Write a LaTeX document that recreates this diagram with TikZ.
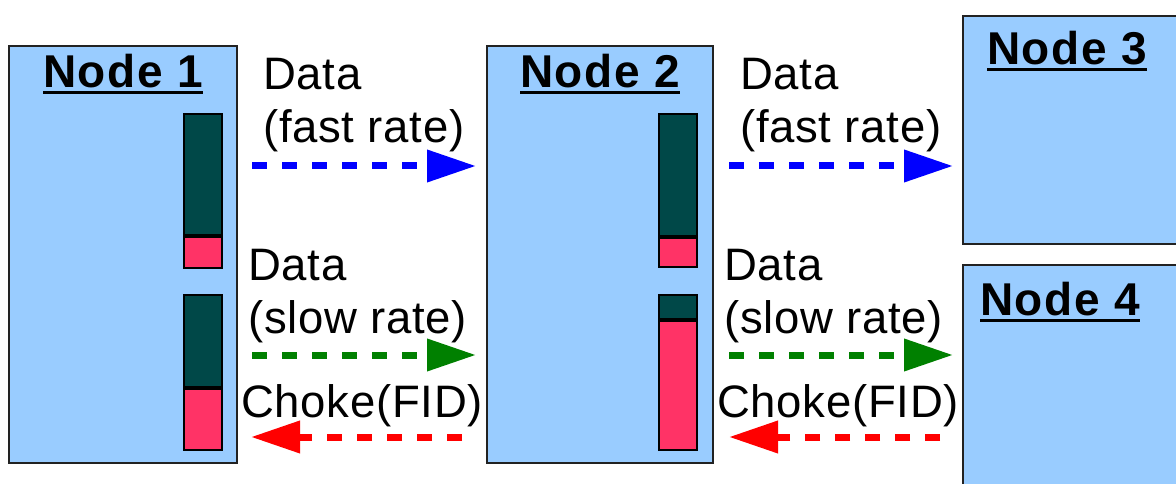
\documentclass[tikz,border=0pt]{standalone}
\usepackage{fontspec}
\setmainfont{Liberation Sans}
\usetikzlibrary{arrows.meta,calc}
\definecolor{boxblue}{HTML}{99CCFF}
\definecolor{bardark}{HTML}{004848}
\definecolor{barpink}{HTML}{FF3366}
\definecolor{edge}{HTML}{222222}
\definecolor{fastblue}{HTML}{0000FF}
\definecolor{slowgreen}{HTML}{008000}
\definecolor{chokered}{HTML}{FF0000}
\newcommand{\ntitle}[1]{\setbox0=\hbox{#1}\rlap{\vrule height -3.5pt depth 6.5pt width \wd0}\box0}
\begin{document}
\begin{tikzpicture}[x=1pt,y=-1pt,
  hostbox/.style={draw=edge,line width=2pt,fill=boxblue,anchor=north west,inner sep=0pt},
  dark/.style={draw=black,line width=2pt,fill=bardark,anchor=north west,inner sep=0pt,minimum width=38pt},
  pinkpart/.style={draw=black,line width=2pt,fill=barpink,anchor=north,inner sep=0pt,minimum width=38pt},
  titletext/.style={anchor=base west,inner sep=0pt,font=\fontsize{46}{53}\selectfont\bfseries\addfontfeature{LetterSpace=3.5}},
  lbl/.style={anchor=base west,inner sep=0pt,align=left,font=\fontsize{45.5}{53}\selectfont\addfontfeature{LetterSpace=1.6}},
  flow/.style={line width=7pt,dash pattern=on 15pt off 15pt,-{Triangle[length=49pt,width=31pt]}},
  fast/.style={flow,draw=fastblue},
  slow/.style={flow,draw=slowgreen},
  choke/.style={flow,draw=chokered}]
\useasboundingbox (0,0) rectangle (1176,484);
% hosts
\node[hostbox,minimum width=228pt,minimum height=417pt] (n1) at (8,45) {};
\node[hostbox,minimum width=226pt,minimum height=417pt] (n2) at (486,45) {};
\node[hostbox,minimum width=240pt,minimum height=228pt] (n3) at (962,15) {};
\node[hostbox,minimum width=240pt,minimum height=260pt] (n4) at (962,264) {};
% titles
\node[titletext] (t1) at (43,88) {\ntitle{Node 1}};
\node[titletext] (t2) at (520,88) {\ntitle{Node 2}};
\node[titletext] (t3) at (987,65) {\ntitle{Node 3}};
\node[titletext] (t4) at (980,315) {\ntitle{Node 4}};
% queues node 1
\node[dark,minimum height=121pt] (q1a) at (183,113) {};
\node[pinkpart,minimum height=31pt] (q1b) at (q1a.south) {};
\node[dark,minimum height=92pt] (q1c) at (183,294) {};
\node[pinkpart,minimum height=61pt] (q1d) at (q1c.south) {};
% queues node 2
\node[dark,minimum height=122pt] (q2a) at (658,113) {};
\node[pinkpart,minimum height=29pt] (q2b) at (q2a.south) {};
\node[dark,minimum height=24pt] (q2c) at (658,294) {};
\node[pinkpart,minimum height=129pt] (q2d) at (q2c.south) {};
% levels
\coordinate (yf) at (0,166);
\coordinate (ys) at (0,355);
\coordinate (yc) at (0,437);
% arrows
\draw[fast] ($(n1.east|-yf)+(14,0)$) -- ($(n2.west|-yf)+(-10,0)$);
\draw[slow] ($(n1.east|-ys)+(14,0)$) -- ($(n2.west|-ys)+(-10,0)$);
\draw[choke] ($(n2.west|-yc)+(-24,0)$) -- ($(n1.east|-yc)+(13,0)$);
\draw[fast] ($(n2.east|-yf)+(15,0)$) -- ($(n3.west|-yf)+(-9,0)$);
\draw[slow] ($(n2.east|-ys)+(15,0)$) -- ($(n4.west|-ys)+(-9,0)$);
\draw[choke] ($(n4.west|-yc)+(-22,0)$) -- ($(n2.east|-yc)+(15,0)$);
% labels (base anchor = baseline of last line)
\node[lbl] (l1) at (263,143) {Data\\(fast rate)};
\node[lbl] (l2) at (248,333) {Data\\(slow rate)};
\node[lbl] (l3) at (241,417) {Choke(FID)};
\node[lbl] (l4) at (740,143) {Data\\(fast rate)};
\node[lbl] (l5) at (724,333) {Data\\(slow rate)};
\node[lbl] (l6) at (717,417) {Choke(FID)};
\end{tikzpicture}
\end{document}
